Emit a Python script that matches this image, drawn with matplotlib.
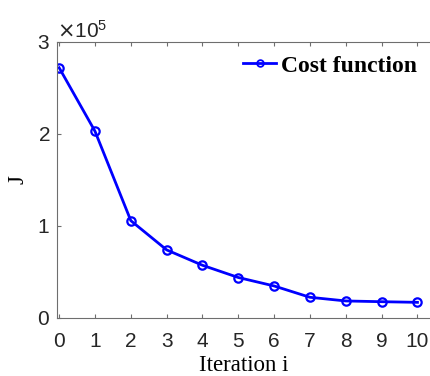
import matplotlib
matplotlib.use("Agg")
import matplotlib.pyplot as plt
import numpy as np

# ── Data ───────────────────────────────────────────────────────────────────────
iterations = np.arange(0, 11)
cost = [2.72e5, 2.03e5, 1.058e5, 0.74e5, 0.573e5, 0.44e5, 0.348e5,
        0.225e5, 0.185e5, 0.177e5, 0.17e5]
yticks = [0, 1e5, 2e5, 3e5]

# ── Plot ───────────────────────────────────────────────────────────────────────
fig = plt.figure(figsize=(4.3, 3.76), dpi=100)
ax = fig.add_axes([0.1326, 0.1543, 0.8674, 0.734])

ax.plot(iterations, cost, color="#0000ff", lw=2.0, marker="o", ms=6,
        mfc="none", mew=1.6, label="Cost function")

ax.set_xlim(-0.06, 10.35)
ax.set_ylim(0, 3e5)
ax.set_xticks(iterations)
ax.set_yticks(yticks)
ax.ticklabel_format(axis="y", style="sci", scilimits=(5, 5), useMathText=True)

axis_grey = "#6e6e6e"
for side in ["left", "top", "bottom"]:
    ax.spines[side].set_color(axis_grey)
    ax.spines[side].set_linewidth(0.8)
ax.spines["right"].set_visible(False)

ax.tick_params(direction="in", length=3, color=axis_grey, top=True,
               labelsize=15, labelcolor="#262626")
ax.tick_params(axis="x", pad=10)
ax.tick_params(axis="y", pad=5)
for lab in ax.get_xticklabels() + ax.get_yticklabels():
    lab.set_fontfamily("Liberation Sans")
off = ax.yaxis.get_offset_text()
off.set_fontfamily("Liberation Sans")
off.set_fontsize(15)
off.set_color("#262626")
off.set_y(1.02)

ax.set_xlabel("Iteration i", fontsize=16.5, family="Liberation Serif", labelpad=3)
ax.set_ylabel("J", fontsize=16.5, family="Liberation Serif", labelpad=6)

leg = ax.legend(loc="upper right", frameon=False, handlelength=1.4,
                handletextpad=0.2, borderaxespad=0.15, markerscale=0.8,
                prop={"family": "Liberation Serif", "weight": "bold", "size": 17})
for h in leg.legend_handles:
    h.set_markeredgewidth(1.3)

fig.savefig("out.png", dpi=100)
